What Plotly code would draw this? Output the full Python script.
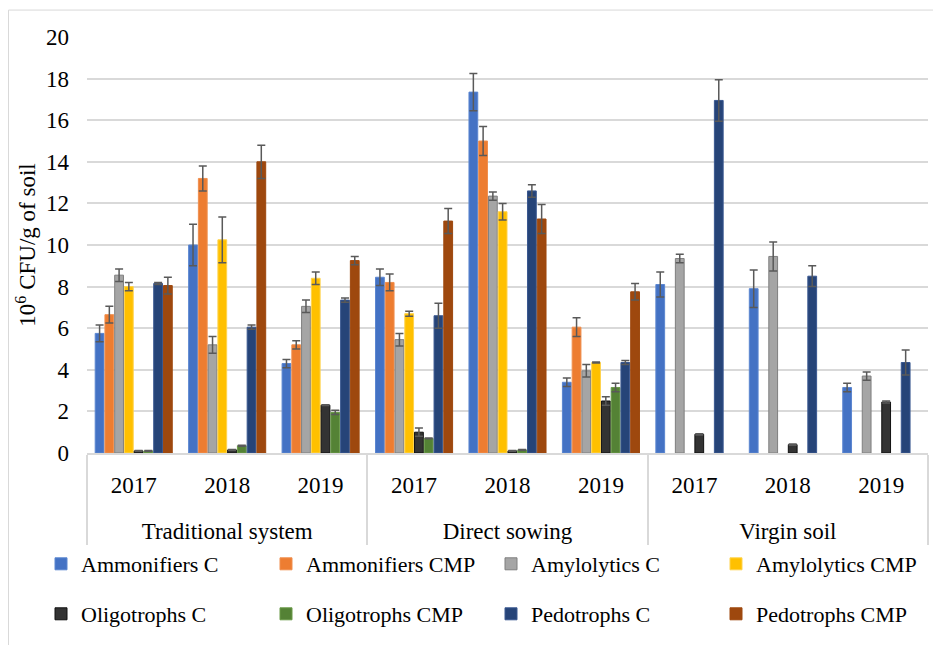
import plotly.graph_objects as go

systems = ["Traditional system"] * 3 + ["Direct sowing"] * 3 + ["Virgin soil"] * 3
years = ["2017", "2018", "2019"] * 3

series_names = ["Ammonifiers C", "Ammonifiers CMP", "Amylolytics C", "Amylolytics CMP",
                "Oligotrophs C", "Oligotrophs CMP", "Pedotrophs C", "Pedotrophs CMP"]

amm_c = [5.75, 10.0, 4.3, 8.45, 17.35, 3.4, 8.1, 7.9, 3.15]
amm_c_err = [0.4, 1.0, 0.2, 0.4, 0.9, 0.2, 0.6, 0.9, 0.2]
amm_cmp = [6.65, 13.2, 5.2, 8.2, 15.0, 6.05, None, None, None]
amm_cmp_err = [0.4, 0.6, 0.2, 0.4, 0.7, 0.45, 0, 0, 0]
amyl_c = [8.55, 5.2, 7.05, 5.45, 12.35, 3.95, 9.35, 9.45, 3.7]
amyl_c_err = [0.3, 0.4, 0.3, 0.3, 0.2, 0.3, 0.2, 0.7, 0.2]
amyl_cmp = [8.0, 10.25, 8.4, 6.7, 11.6, 4.35, None, None, None]
amyl_cmp_err = [0.2, 1.1, 0.3, 0.12, 0.4, 0.02, 0, 0, 0]
olig_c = [0.1, 0.15, 2.3, 1.0, 0.1, 2.5, 0.9, 0.4, 2.45]
olig_c_err = [0.02, 0.02, 0.02, 0.2, 0.02, 0.2, 0.03, 0.03, 0.05]
olig_cmp = [0.1, 0.35, 1.95, 0.7, 0.15, 3.15, None, None, None]
olig_cmp_err = [0.02, 0.02, 0.1, 0.02, 0.02, 0.2, 0, 0, 0]
pedo_c = [8.15, 6.05, 7.35, 6.6, 12.6, 4.35, 16.95, 8.5, 4.35]
pedo_c_err = [0.05, 0.1, 0.1, 0.6, 0.3, 0.1, 1.0, 0.5, 0.6]
pedo_cmp = [8.05, 14.0, 9.25, 11.15, 11.25, 7.75, None, None, None]
pedo_cmp_err = [0.4, 0.8, 0.2, 0.6, 0.7, 0.4, 0, 0, 0]

values = [amm_c, amm_cmp, amyl_c, amyl_cmp, olig_c, olig_cmp, pedo_c, pedo_cmp]
errors = [amm_c_err, amm_cmp_err, amyl_c_err, amyl_cmp_err, olig_c_err, olig_cmp_err, pedo_c_err, pedo_cmp_err]

colors = ["#4472C4", "#ED7D31", "#A5A5A5", "#FFC000", "#333333", "#548235", "#264478", "#9E480E"]
line_colors = ["#5B86D0", "#F08F4E", "#7F7F7F", "#FFD34D", "#111111", "#6A9A48", "#3A5890", "#9E480E"]

FONT = "Liberation Serif, Times New Roman, serif"

# system labels carry a leading blank line to sit lower, as in the reference
system_labels = ["<br>" + s for s in systems]

fig = go.Figure()
for i, name in enumerate(series_names):
    fig.add_trace(go.Bar(
        x=[system_labels, years],
        y=values[i],
        name=name,
        marker=dict(color=colors[i], line=dict(color=line_colors[i], width=1)),
        error_y=dict(type="data", array=errors[i], visible=True,
                     color="#595959", thickness=1.5, width=4),
        legend="legend" if i < 4 else "legend2",
    ))

# page has an 8px body margin; figure is sized so it ends at the window edge
OFF = 8
W, H = 941 - OFF, 645 - OFF
# plot area in page pixels
PL, PR, PT, PB = 87, 928, 37, 454
L, R, T, B = PL - OFF, W - (PR - OFF), PT - OFF, H - (PB - OFF)
pw, ph = PR - PL, PB - PT

def px(xp):
    return (xp - PL) / pw

def py(yp):
    return (PB - yp) / ph

legend_common = dict(
    orientation="h", xanchor="left", yanchor="middle",
    font=dict(family=FONT, size=22, color="#000000"),
    entrywidth=180, entrywidthmode="pixels",
    itemwidth=30, bgcolor="rgba(0,0,0,0)", traceorder="normal",
)

fig.update_layout(
    template="none",
    width=W, height=H,
    margin=dict(l=L, r=R, t=T, b=B),
    paper_bgcolor="white", plot_bgcolor="white",
    barmode="group", bargap=0.165, bargroupgap=0.1,
    font=dict(family=FONT, size=23, color="#000000"),
    showlegend=True,
    legend=dict(x=px(46), y=py(564), **legend_common),
    legend2=dict(x=px(46), y=py(614), **legend_common),
    xaxis=dict(
        type="multicategory", automargin=False,
        showline=True, linecolor="#D9D9D9", linewidth=1.5,
        showdividers=True, dividercolor="#D9D9D9", dividerwidth=1.5,
        ticks="", ticklabelstandoff=11,
        tickfont=dict(family=FONT, size=23, color="#000000"),
        showgrid=False, zeroline=False,
    ),
    yaxis=dict(
        automargin=False,
        range=[0, 20], dtick=2, tick0=0,
        showgrid=True, gridcolor="#D9D9D9", gridwidth=1.5,
        zeroline=False, showline=False, ticks="",
        tickfont=dict(family=FONT, size=23, color="#000000"),
        ticklabelstandoff=17,
        title=dict(text="10<sup>6</sup> CFU/g of soil",
                   font=dict(family=FONT, size=23, color="#000000"), standoff=3),
    ),
    shapes=[dict(type="rect", xref="paper", yref="paper",
                 x0=px(8.5), x1=px(950), y0=py(660), y1=py(10),
                 line=dict(color="#D9D9D9", width=1), fillcolor="rgba(0,0,0,0)",
                 layer="below")],
)

fig.write_html("out.html")
